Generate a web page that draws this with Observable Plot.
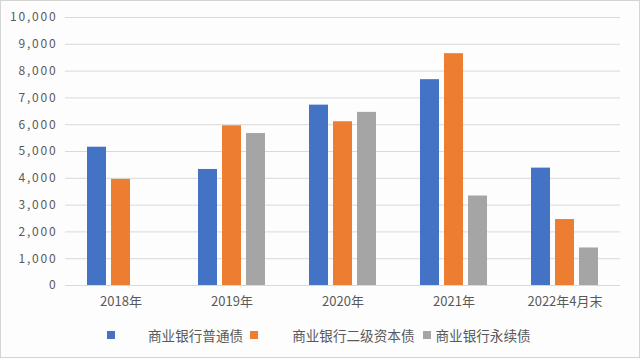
<!DOCTYPE html>
<html>
<head>
<meta charset="utf-8">
<script src="https://cdn.jsdelivr.net/npm/d3@7"></script>
<script src="https://cdn.jsdelivr.net/npm/@observablehq/plot@0.6"></script>
<style>
  html, body { margin: 0; padding: 0; background: #ffffff; }
  #wrap { position: relative; width: 640px; height: 358px; overflow: hidden; background: #fdfdfd; font-family: "Noto Sans CJK SC", sans-serif; }
  #frame { position: absolute; left: 0; top: 0; right: 0; bottom: 0; border: 1px solid #d4d4d4; pointer-events: none; }
  #legend { position: absolute; left: 107px; top: 324px; height: 22px; display: flex; align-items: center; font-size: 13.6px; color: #595959; }
  .sw { width: 8px; height: 8px; display: inline-block; }
  svg g[aria-label="y-axis tick label"] { letter-spacing: 1.8px; }
</style>
</head>
<body>
<div id="wrap"><div id="chart"></div><div id="legend"></div><div id="frame"></div></div>
<script>
const years = ["2018年", "2019年", "2020年", "2021年", "2022年4月末"];
const series = ["商业银行普通债", "商业银行二级资本债", "商业银行永续债"];
const ordinary = [5160, 4330, 6730, 7680, 4380];
const tier2 = [3960, 5960, 6110, 8650, 2460];
const perpetual = [null, 5670, 6460, 3340, 1400];
const yTicks = [0, 1000, 2000, 3000, 4000, 5000, 6000, 7000, 8000, 9000, 10000];
const colors = ["#4472C4", "#ED7D31", "#A5A5A5"];
const legendGapAfterSwatch = [33, 34, 5];
const legendGapAfterText = [7, 8, 0];

const valuesBySeries = [ordinary, tier2, perpetual];
const data = years.flatMap((year, i) =>
  series.map((s, j) => ({year, series: s, value: valuesBySeries[j][i]}))
).filter(d => d.value != null);

const chart = Plot.plot({
  width: 640,
  height: 320,
  marginTop: 17,
  marginBottom: 35,
  marginLeft: 63,
  marginRight: 18,
  style: {fontFamily: "'Noto Sans CJK SC', sans-serif", fontSize: "12px", color: "#595959", background: "transparent"},
  fx: {domain: years, padding: 0, label: null},
  x: {domain: series, axis: null, paddingInner: 0.22, paddingOuter: 0.915},
  y: {domain: [0, 10000], label: null},
  color: {domain: series, range: colors},
  marks: [
    Plot.gridY(yTicks, {stroke: "#d9d9d9", strokeOpacity: 1, strokeWidth: 1}),
    Plot.axisY(yTicks, {tickFormat: d3.format(","), tickSize: 0, tickPadding: 8, label: null, fill: "#595959", fontSize: 12}),
    Plot.axisFx({anchor: "bottom", tickSize: 0, tickPadding: 11, label: null, fill: "#595959", fontSize: 13}),
    Plot.barY(data, {fx: "year", x: "series", y: "value", fill: "series"})
  ]
});
document.getElementById("chart").appendChild(chart);

const legend = document.getElementById("legend");
series.forEach((s, i) => {
  const sw = document.createElement("span");
  sw.className = "sw";
  sw.style.background = colors[i];
  sw.style.marginRight = legendGapAfterSwatch[i] + "px";
  legend.appendChild(sw);
  const t = document.createElement("span");
  t.textContent = s;
  t.style.marginRight = legendGapAfterText[i] + "px";
  legend.appendChild(t);
});
</script>
</body>
</html>
